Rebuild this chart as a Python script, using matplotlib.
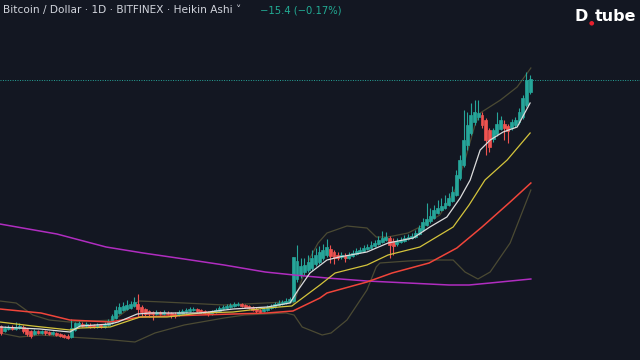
import matplotlib.pyplot as plt

# Heikin Ashi candles (relative price units), one per day
ha_open = [34, 29, 31, 33, 31, 32, 33, 31, 29, 26, 29, 27, 29, 28, 26, 27, 26, 25, 24, 23,
           30, 34, 36, 34, 35, 35, 33, 35, 33, 35, 37, 42, 47, 50, 51, 52, 54, 56, 53, 51,
           49, 48, 46, 48, 46, 47, 47, 46, 45, 46, 48, 49, 50, 51, 50, 49, 48, 46, 48, 49,
           51, 52, 53, 54, 55, 56, 55, 54, 53, 51, 50, 49, 50, 52, 53, 55, 56, 57, 58, 59,
           81, 85, 88, 90, 92, 96, 98, 102, 105, 111, 108, 105, 103, 104, 102, 104, 106, 108, 109, 111,
           112, 114, 116, 118, 120, 122, 119, 116, 118, 119, 121, 122, 123, 126, 130, 135, 139, 142, 147, 150,
           152, 155, 159, 165, 182, 195, 215, 227, 238, 243, 245, 240, 230, 221, 226, 231, 236, 234, 232, 235,
           238, 243, 255, 268]
ha_close = [27, 32, 33, 31, 33, 34, 29, 26, 24, 29, 27, 29, 27, 26, 28, 25, 24, 23, 22, 32,
            37, 37, 34, 36, 33, 33, 35, 33, 36, 39, 44, 50, 53, 54, 55, 56, 58, 51, 48, 46,
            46, 46, 48, 46, 48, 46, 45, 44, 48, 49, 50, 51, 51, 49, 48, 47, 46, 49, 50, 52,
            53, 54, 55, 56, 56, 54, 53, 52, 50, 49, 48, 51, 53, 54, 56, 57, 58, 59, 61, 103,
            99, 94, 95, 98, 102, 105, 108, 110, 113, 104, 102, 102, 105, 102, 105, 107, 109, 110, 112, 113,
            115, 117, 120, 122, 123, 115, 114, 119, 120, 122, 123, 124, 127, 132, 138, 141, 144, 150, 152, 154,
            157, 162, 168, 185, 200, 220, 235, 245, 248, 247, 235, 220, 213, 230, 236, 240, 232, 229, 238, 240,
            248, 262, 280, 281]
ha_high = [35, 34, 35, 35, 38, 37, 35, 32, 30, 31, 30, 30, 30, 29, 29, 28, 27, 26, 26, 41,
           38, 39, 38, 38, 37, 36, 37, 36, 38, 41, 46, 54, 57, 58, 60, 59, 63, 66, 55, 52,
           50, 49, 50, 49, 50, 49, 48, 48, 50, 51, 52, 53, 53, 52, 51, 50, 49, 50, 52, 54,
           55, 56, 57, 58, 58, 57, 56, 55, 54, 53, 51, 53, 55, 56, 58, 60, 60, 62, 63, 103,
           115, 102, 102, 105, 110, 112, 114, 116, 121, 115, 110, 108, 108, 107, 108, 110, 112, 113, 115, 116,
           119, 120, 124, 129, 128, 124, 122, 122, 123, 125, 126, 127, 130, 135, 142, 157, 152, 155, 160, 162,
           165, 167, 174, 190, 205, 250, 248, 257, 260, 260, 248, 242, 232, 232, 248, 244, 240, 236, 241, 243,
           252, 265, 288, 285]
ha_low = [25, 28, 30, 30, 30, 31, 27, 24, 22, 25, 26, 26, 25, 25, 25, 24, 23, 22, 21, 22,
          29, 33, 33, 33, 32, 32, 32, 32, 32, 34, 36, 41, 46, 49, 50, 51, 53, 43, 44, 44,
          43, 40, 45, 45, 45, 45, 42, 42, 44, 45, 47, 48, 49, 48, 47, 46, 44, 45, 47, 48,
          50, 51, 52, 53, 54, 53, 52, 51, 49, 47, 47, 48, 49, 51, 52, 54, 55, 56, 57, 58,
          78, 82, 85, 88, 90, 94, 96, 100, 103, 97, 96, 100, 101, 98, 101, 103, 105, 107, 108, 110,
          111, 113, 115, 117, 119, 102, 105, 114, 117, 118, 120, 121, 122, 125, 129, 134, 137, 141, 146, 149,
          151, 154, 158, 164, 180, 193, 210, 225, 235, 240, 232, 205, 208, 218, 224, 230, 220, 217, 230, 233,
          236, 241, 253, 266]

# moving averages and bollinger bands, sampled (day, value)
ma_slow_day = [-0.3, 15.1, 28.4, 38.4, 49.5, 60.3, 71.4, 79.2, 88.1, 98.9, 110.0, 121.1, 126.5, 132.2, 143.2]
ma_slow_val = [136, 126, 113, 107, 101, 95, 88, 85, 82, 79, 77, 75, 75, 77, 81]

ma_red_day = [-0.3, 10.8, 18.6, 29.5, 37.6, 53.8, 71.9, 78.9, 86.2, 88.1, 98.9, 105.7, 115.7, 123.2, 130.0, 137.6, 143.2]
ma_red_val = [51, 47, 40, 38, 43, 45, 47, 49, 62, 67, 78, 87, 97, 112, 133, 158, 177]

ma_yel_day = [-0.3, 8.6, 18.6, 21.4, 29.5, 37.6, 44.9, 53.8, 62.7, 71.9, 78.6, 86.2, 90.3, 98.9, 104.6,
              113.2, 122.2, 126.5, 130.8, 136.8, 143.0]
ma_yel_val = [38, 34, 30, 32, 33, 43, 43, 47, 48, 52, 54, 75, 87, 95, 105, 113, 133, 155, 180, 200, 227]

ma_wht_day = [-0.3, 10.5, 18.6, 21.4, 29.5, 31.6, 36.8, 40.3, 53.8, 62.7, 71.9, 78.1, 80.3, 83.5, 88.1,
              91.4, 98.9, 104.6, 111.4, 115.9, 120.5, 124.1, 126.8, 129.5, 132.2, 135.7, 139.5, 143.0]
ma_wht_val = [33, 31, 28, 34, 36, 38, 46, 47, 47, 51, 53, 57, 70, 87, 100, 103, 108, 117, 122, 133, 143,
              162, 180, 210, 220, 228, 233, 257]

bb_up_day = [-0.3, 4.1, 8.6, 13.0, 18.4, 30.5, 37.3, 43.8, 49.5, 60.3, 65.9, 77.0, 79.2, 80.8, 83.5,
             85.7, 88.1, 93.5, 98.9, 101.4, 104.6, 110.0, 113.2, 118.6, 122.7, 125.4, 128.1, 129.5,
             135.0, 139.5, 143.2]
bb_up_val = [59, 57, 45, 40, 38, 40, 59, 58, 57, 55, 56, 58, 57, 75, 102, 117, 127, 134, 132, 123, 123,
             127, 133, 145, 170, 200, 235, 247, 260, 273, 292]

bb_lo_day = [-0.3, 5.1, 10.8, 18.4, 27.3, 36.2, 41.6, 49.5, 60.3, 65.9, 77.0, 79.2, 81.4, 86.8, 89.2,
             93.5, 98.9, 101.4, 102.4, 110.0, 115.7, 122.2, 125.4, 128.9, 132.2, 137.6, 143.2]
bb_lo_val = [27, 23, 25, 23, 21, 18, 27, 35, 42, 45, 47, 45, 33, 25, 27, 40, 70, 93, 97, 99, 100, 100,
             88, 81, 88, 117, 170]

last_price = 280

bg = '#131722'
up_col = '#26a69a'
dn_col = '#ef5350'

fig = plt.figure(figsize=(6.4, 3.6), dpi=100, facecolor=bg)
ax = fig.add_axes([0, 0, 1, 1])
ax.set_facecolor(bg)

days = list(range(len(ha_open)))
colors = [up_col if c >= o else dn_col for o, c in zip(ha_open, ha_close)]
bottoms = [min(o, c) for o, c in zip(ha_open, ha_close)]
heights = [max(abs(c - o), 1.0) for o, c in zip(ha_open, ha_close)]

ax.vlines(days, ha_low, ha_high, colors=colors, linewidth=0.8, zorder=2)
ax.bar(days, heights, bottom=bottoms, width=0.8, color=colors, edgecolor=colors,
       linewidth=0.5, zorder=2)

# bands and averages
ax.plot(bb_up_day, bb_up_val, color='#4b4a33', lw=0.9, zorder=1)
ax.plot(bb_lo_day, bb_lo_val, color='#4b4a33', lw=0.9, zorder=1)
ax.plot(ma_slow_day, ma_slow_val, color='#b02dc0', lw=1.1, zorder=3)
ax.plot(ma_red_day, ma_red_val, color='#f0453a', lw=1.1, zorder=3)
ax.plot(ma_yel_day, ma_yel_val, color='#d4c43c', lw=0.9, zorder=3)
ax.plot(ma_wht_day, ma_wht_val, color='#dcdcdc', lw=0.9, zorder=3)

ax.axhline(last_price, color=up_col, lw=0.7, ls=(0, (1, 1.5)), zorder=3)

ax.set_xlim(-0.27, 172.7)
ax.set_ylim(0, 360)
ax.axis('off')

# header
fig.text(0.005, 0.972, 'Bitcoin / Dollar · 1D · BITFINEX · Heikin Ashi ˅', color='#d1d4dc',
         fontsize=7.6, va='center', ha='left')
fig.text(0.406, 0.972, '\u221215.4 (\u22120.17%)', color='#22ab94', fontsize=7.2, va='center', ha='left')

# logo
fig.text(0.897, 0.955, 'D', color='white', fontsize=11.5, fontweight='bold', va='center', ha='left')
fig.text(0.920, 0.935, '\u25cf', color='#e8202e', fontsize=4.5, va='center', ha='left')
fig.text(0.929, 0.955, 'tube', color='white', fontsize=11.5, fontweight='bold', va='center', ha='left')

fig.savefig('out.png', dpi=100, facecolor=bg)
